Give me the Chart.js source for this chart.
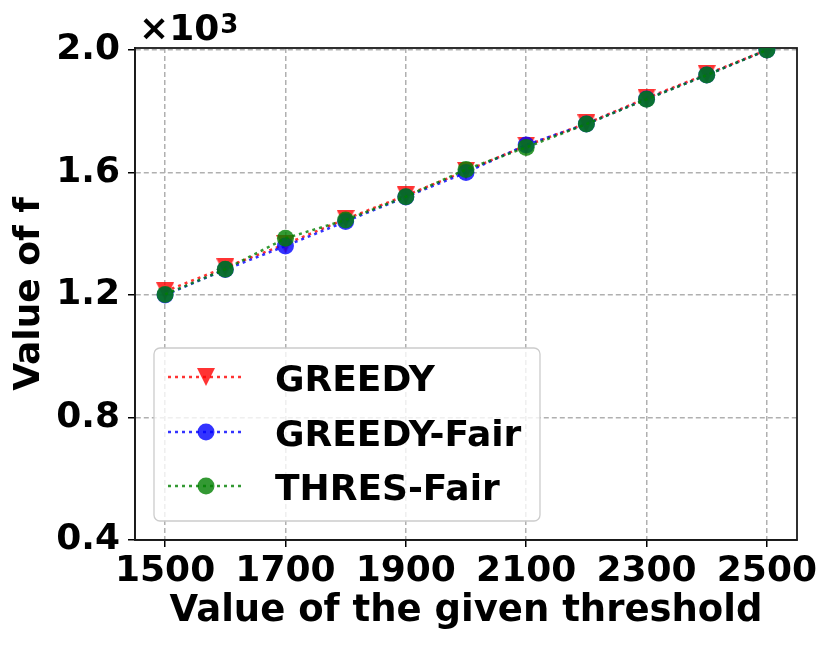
<!DOCTYPE html>
<html>
<head>
    <script src="https://cdn.jsdelivr.net/npm/chart.js@4.4.1/dist/chart.umd.min.js"></script>
    <style>
        body { margin: 0; background: #fff; }
    </style>
</head>

<body>
<div style="width: 831px; height: 646px;">
    <canvas id="myChart" width="831" height="646"></canvas>
</div>

<script>
    const thresholds = [1500, 1600, 1700, 1800, 1900, 2000, 2100, 2200, 2300, 2400, 2500];
    const greedy = [1212, 1290, 1366, 1448, 1525, 1605, 1688, 1760, 1843, 1921, 2000];
    const greedyFair = [1200, 1283, 1360, 1440, 1520, 1600, 1690, 1758, 1840, 1918, 2000];
    const thresFair = [1202, 1284, 1385, 1445, 1521, 1610, 1682, 1758, 1839, 1918, 2000];
    const seriesNames = ["GREEDY", "GREEDY-Fair", "THRES-Fair"];
    const xTicks = [1500, 1700, 1900, 2100, 2300, 2500];
    const yTicks = [400, 800, 1200, 1600, 2000];

    const FONT = "'DejaVu Sans', sans-serif";

    function points(values) {
        return thresholds.map((t, i) => ({x: t, y: values[i]}));
    }

    // matplotlib "v" marker: as tall as it is wide
    function triangleDown(color, size) {
        const c = document.createElement("canvas");
        c.width = size;
        c.height = size;
        const g = c.getContext("2d");
        g.fillStyle = color;
        g.beginPath();
        g.moveTo(0, 0);
        g.lineTo(size, 0);
        g.lineTo(size / 2, size);
        g.closePath();
        g.fill();
        return c;
    }

    function makeSet(name, values, color, style, radius, order) {
        return {
            label: name,
            data: points(values),
            borderColor: color,
            backgroundColor: color,
            borderWidth: 2.5,
            borderDash: [3, 4],
            pointStyle: style,
            pointRadius: radius,
            pointBorderWidth: 0,
            pointHoverRadius: radius,
            order: order,
            clip: 0
        };
    }

    // frame around the plot area
    const frame = {
        id: "frame",
        beforeDatasetsDraw(chart) {
            const a = chart.chartArea;
            const ctx = chart.ctx;
            ctx.save();
            ctx.strokeStyle = "#1a1a1a";
            ctx.lineWidth = 1.8;
            ctx.strokeRect(a.left, a.top, a.right - a.left, a.bottom - a.top);
            ctx.restore();
        }
    };

    // x10^3 offset label and the boxed legend
    const extras = {
        id: "extras",
        afterDraw(chart) {
            const ctx = chart.ctx;
            ctx.save();
            ctx.fillStyle = "#000";
            ctx.textBaseline = "alphabetic";
            ctx.textAlign = "left";
            ctx.font = "bold 36px " + FONT;
            ctx.fillText("\u00d710", 139, 40);
            const w = ctx.measureText("\u00d710").width;
            ctx.font = "bold 26px " + FONT;
            ctx.fillText("3", 139 + w + 1, 33);

            // legend
            const bx = 154, by = 348, bw = 386, bh = 173, r = 6;
            ctx.beginPath();
            ctx.roundRect(bx, by, bw, bh, r);
            ctx.fillStyle = "rgba(255,255,255,0.8)";
            ctx.fill();
            ctx.strokeStyle = "#cccccc";
            ctx.lineWidth = 1.3;
            ctx.stroke();

            const rows = [377, 432, 486];
            chart.data.datasets.forEach((ds, i) => {
                const y = rows[i];
                ctx.save();
                ctx.strokeStyle = ds.borderColor;
                ctx.lineWidth = ds.borderWidth;
                ctx.setLineDash(ds.borderDash);
                ctx.beginPath();
                ctx.moveTo(168, y);
                ctx.lineTo(244, y);
                ctx.stroke();
                ctx.restore();
                ctx.fillStyle = ds.backgroundColor;
                Chart.helpers.drawPoint(ctx, {
                    pointStyle: ds.pointStyle,
                    radius: ds.pointRadius,
                    rotation: 0,
                    borderWidth: 0
                }, 206, y);
                ctx.fillStyle = "#000";
                ctx.font = "bold 36px " + FONT;
                ctx.fillText(ds.label, 275, y + 14);
            });
            ctx.restore();
        }
    };

    let myChart = new Chart("myChart", {
        type: "line",
        data: {
            datasets: [
                makeSet(seriesNames[0], greedy, "rgba(255,0,0,0.8)", triangleDown("rgba(255,0,0,0.8)", 18), 9, 2),
                makeSet(seriesNames[1], greedyFair, "rgba(0,0,255,0.8)", "circle", 8.5, 1),
                makeSet(seriesNames[2], thresFair, "rgba(0,128,0,0.8)", "circle", 8.5, 0)
            ]
        },
        options: {
            responsive: false,
            animation: false,
            layout: {
                padding: {left: 0, top: 48, right: 34, bottom: 0}
            },
            plugins: {
                legend: {display: false},
                tooltip: {enabled: false}
            },
            scales: {
                x: {
                    type: "linear",
                    min: 1450,
                    max: 2550,
                    afterBuildTicks: (scale) => {
                        scale.ticks = xTicks.map(v => ({value: v}));
                    },
                    afterFit: (scale) => {
                        scale.height = 106;
                    },
                    ticks: {
                        color: "#000",
                        font: {family: FONT, size: 36, weight: "bold"},
                        padding: 3,
                        maxRotation: 0,
                        autoSkip: false,
                        callback: (v) => String(v)
                    },
                    grid: {
                        color: "#b0b0b0",
                        lineWidth: 1.5,
                        tickColor: "#000",
                        tickLength: 7,
                        tickWidth: 1.5,
                        tickBorderDash: []
                    },
                    border: {display: true, color: "#1a1a1a", width: 1.8, dash: [5, 3]},
                    title: {
                        display: true,
                        text: "Value of the given threshold",
                        color: "#000",
                        font: {family: FONT, size: 37, weight: "bold"},
                        padding: {top: 0, bottom: 12}
                    }
                },
                y: {
                    type: "linear",
                    min: 400,
                    max: 2006.5,
                    afterBuildTicks: (scale) => {
                        scale.ticks = yTicks.map(v => ({value: v}));
                    },
                    afterFit: (scale) => {
                        scale.width = 135;
                    },
                    ticks: {
                        color: "#000",
                        font: {family: FONT, size: 36, weight: "bold"},
                        padding: 8,
                        callback: (v) => (v / 1000).toFixed(1)
                    },
                    grid: {
                        color: "#b0b0b0",
                        lineWidth: 1.5,
                        tickColor: "#000",
                        tickLength: 7,
                        tickWidth: 1.5,
                        tickBorderDash: []
                    },
                    border: {display: true, color: "#1a1a1a", width: 1.8, dash: [5, 3]},
                    title: {
                        display: true,
                        text: "Value of f",
                        color: "#000",
                        font: {family: FONT, size: 36, weight: "bold"},
                        padding: {top: 8, bottom: 0}
                    }
                }
            }
        },
        plugins: [frame, extras]
    });
</script>
</body>
</html>
